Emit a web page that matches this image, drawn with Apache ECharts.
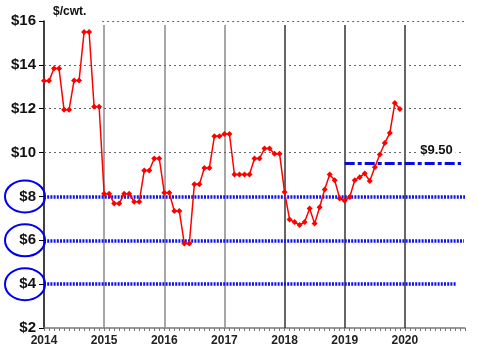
<!DOCTYPE html>
<html>
<head>
<meta charset="utf-8">
<script src="https://cdn.jsdelivr.net/npm/echarts@6/dist/echarts.min.js"></script>
<style>html,body{margin:0;padding:0;background:#fff}#c{width:480px;height:360px}</style>
</head>
<body>
<div id="c"></div>
<script>
// ---- data ----
const startYear = 2014;
const endYear = 2021;
const yearLines = [2015, 2016, 2017, 2018, 2019, 2020];
const yTicks = [2, 4, 6, 8, 10, 12, 14, 16];
const prices2014 = [13.27, 13.27, 13.83, 13.83, 11.95, 11.95, 13.29, 13.29, 15.50, 15.50, 12.09, 12.09];
const prices2015 = [8.12, 8.12, 7.68, 7.68, 8.12, 8.12, 7.76, 7.76, 9.18, 9.18, 9.73, 9.73];
const prices2016 = [8.17, 8.17, 7.33, 7.33, 5.85, 5.85, 8.55, 8.55, 9.30, 9.30, 10.74, 10.74];
const prices2017 = [10.85, 10.85, 9.00, 9.00, 9.00, 9.00, 9.73, 9.73, 10.18, 10.18, 9.95, 9.95];
const prices2018 = [8.20, 6.95, 6.83, 6.70, 6.83, 7.45, 6.76, 7.51, 8.32, 9.00, 8.74, 7.91];
const prices2019 = [7.80, 7.97, 8.74, 8.88, 9.05, 8.70, 9.33, 9.91, 10.44, 10.89, 12.26, 11.99];
const prices = [].concat(prices2014, prices2015, prices2016, prices2017, prices2018, prices2019);
const refLevels = [8, 6, 4];
const gridLevels = [10, 12, 14, 16];
const targetPrice = 9.5;
const targetLabel = '$9.50';
const targetStartYear = 2019;
const unitLabel = '$/cwt.';

// ---- chart ----
const FONT = 'Liberation Sans, Arial, sans-serif';
const mIdx = y => (y - startYear) * 12;
const maxM = mIdx(endYear);

const chart = echarts.init(document.getElementById('c'), null, {renderer: 'canvas'});

const yearLineData = yearLines.map(y => [
  {coord: [mIdx(y), 15.82], lineStyle: {color: y <= 2017 ? '#8a8a8a' : '#333333', width: 1.5, type: 'solid'}},
  {coord: [mIdx(y), 2]}
]);

const gridLineData = gridLevels.map(v => [
  {coord: [v === 16 ? 11.6 : 0, v], lineStyle: {color: '#666', width: 1, type: [2, 3]}},
  {coord: [83.8, v]}
]);

const refEnds = {8: 84, 6: 83.8, 4: 82.2};
const refStyle = {color: '#1212f2', width: 3.5, type: [2, 1.2]};
const refLineData = refLevels.map(v => [
  {coord: [0, v], lineStyle: refStyle},
  {coord: [refEnds[v], v]}
]);

const targetLineData = [[
  {coord: [mIdx(targetStartYear), targetPrice], lineStyle: {color: '#0a0ae8', width: 3, type: [10, 3, 4, 3]}},
  {coord: [83.2, targetPrice]}
]];

const option = {
  animation: false,
  backgroundColor: '#fff',
  grid: {left: 44, right: 15, top: 21, bottom: 32},
  xAxis: {
    type: 'value', min: 0, max: maxM, interval: 12,
    axisLine: {lineStyle: {color: '#777', width: 1.5}},
    axisTick: {length: 3, lineStyle: {color: '#777'}},
    minorTick: {show: true, splitNumber: 12, length: 3, lineStyle: {color: '#777'}},
    splitLine: {show: false},
    axisLabel: {
      formatter: v => v >= maxM ? '' : String(startYear + v / 12),
      fontWeight: 'bold', fontSize: 12, color: '#222', margin: 7, fontFamily: FONT
    }
  },
  yAxis: {
    type: 'value', min: yTicks[0], max: yTicks[yTicks.length - 1], interval: 2,
    name: unitLabel, nameLocation: 'end', nameGap: 3,
    nameTextStyle: {align: 'left', padding: [0, 0, 0, 9], fontWeight: 'bold', fontSize: 12, color: '#111', fontFamily: FONT},
    axisLine: {lineStyle: {color: '#000', width: 1.5}},
    axisTick: {length: 5, lineStyle: {color: '#000'}},
    splitLine: {show: false},
    axisLabel: {formatter: v => '$' + v, fontWeight: 'bold', fontSize: 15, color: '#111', margin: 8, fontFamily: FONT}
  },
  series: [
    {
      type: 'line', name: 'grid', data: [], silent: true,
      markLine: {silent: true, symbol: ['none', 'none'], label: {show: false}, animation: false,
        data: yearLineData.concat(gridLineData)}
    },
    {
      type: 'line', name: 'refs', data: [], silent: true, z: 3,
      markLine: {silent: true, symbol: ['none', 'none'], label: {show: false}, animation: false,
        data: refLineData.concat(targetLineData)},
      markPoint: {
        silent: true, symbol: 'rect', symbolSize: 0,
        data: [{coord: [78.3, 10.1], value: targetLabel}],
        label: {show: true, position: 'inside', formatter: targetLabel, color: '#111', fontWeight: 'bold', fontSize: 13,
          fontFamily: FONT, backgroundColor: '#fff', padding: [1, 3]}
      }
    },
    {
      type: 'line', name: 'price', z: 5,
      data: prices.map((v, i) => [i, v]),
      symbol: 'diamond', symbolSize: 6,
      lineStyle: {color: '#ff0000', width: 1.5},
      itemStyle: {color: '#ff0000'}
    }
  ]
};
chart.setOption(option);

const cx = 25;
chart.setOption({
  graphic: refLevels.map(v => ({
    type: 'ellipse', z: 100, silent: true,
    shape: {cx: cx, cy: chart.convertToPixel({yAxisIndex: 0}, v), rx: 20, ry: 16},
    style: {fill: 'none', stroke: '#0000ee', lineWidth: 2}
  }))
});
</script>
</body>
</html>
